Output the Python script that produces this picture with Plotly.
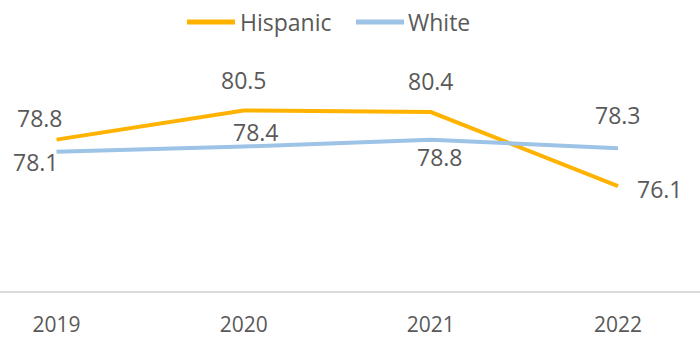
import plotly.graph_objects as go

# Life expectancy by year
years = [2019, 2020, 2021, 2022]
hispanic = [78.8, 80.5, 80.4, 76.1]
white = [78.1, 78.4, 78.8, 78.3]
year_labels = ["2019", "2020", "2021", "2022"]
series_names = ["Hispanic", "White"]

# Pixel offsets (dx, dy) of each value label from its point
hispanic_label_shift = [(-17, 22), (0, 30), (0, 31), (42, -3)]
white_label_shift = [(-21, -10), (12, 15), (9, -17), (0, 33)]

ORANGE = "#FFB300"
BLUE = "#9DC3E6"
TEXT = "#595959"
FONT = "Open Sans, Lato, sans-serif"
W, H = 700, 340
M_TOP, M_BOTTOM = 33, 49
PLOT_H = H - M_TOP - M_BOTTOM

fig = go.Figure()
fig.add_trace(go.Scatter(x=years, y=hispanic, mode="lines", name=series_names[0],
                         line=dict(color=ORANGE, width=4), showlegend=False))
fig.add_trace(go.Scatter(x=years, y=white, mode="lines", name=series_names[1],
                         line=dict(color=BLUE, width=4), showlegend=False))

# Value labels next to each point
for vals, shifts in ((hispanic, hispanic_label_shift), (white, white_label_shift)):
    for x, v, (dx, dy) in zip(years, vals, shifts):
        fig.add_annotation(x=x, y=v, text=f"{v:.1f}", showarrow=False,
                           xshift=dx, yshift=dy,
                           font=dict(family=FONT, size=23, color=TEXT))

# Hand-built legend across the top: sample line followed by its name
legend_items = [(187, 235, 238, ORANGE), (356, 404, 406, BLUE)]
legend_y = (H - M_BOTTOM - 22) / PLOT_H  # 22 px below the top edge
for name, (x0, x1, xt, col) in zip(series_names, legend_items):
    fig.add_shape(type="line", xref="paper", yref="paper",
                  x0=x0 / W, x1=x1 / W, y0=legend_y, y1=legend_y,
                  line=dict(color=col, width=5))
    fig.add_annotation(xref="paper", yref="paper", x=xt / W, y=legend_y,
                       xanchor="left", yanchor="middle", text=name,
                       showarrow=False,
                       font=dict(family=FONT, size=23, color=TEXT))

fig.update_layout(
    width=W, height=H,
    margin=dict(l=0, r=0, t=M_TOP, b=M_BOTTOM),
    paper_bgcolor="white", plot_bgcolor="white",
    showlegend=False,
    xaxis=dict(range=[2018.698, 2022.438], tickmode="array", tickvals=years,
               ticktext=year_labels, showgrid=False, zeroline=False,
               showline=True, linecolor="#D9D9D9", linewidth=2,
               ticks="", ticklabelstandoff=14, automargin=False,
               tickfont=dict(family=FONT, size=21, color=TEXT)),
    yaxis=dict(range=[70, 85], visible=False, showgrid=False, zeroline=False,
               automargin=False),
)

fig.write_html("out.html")
